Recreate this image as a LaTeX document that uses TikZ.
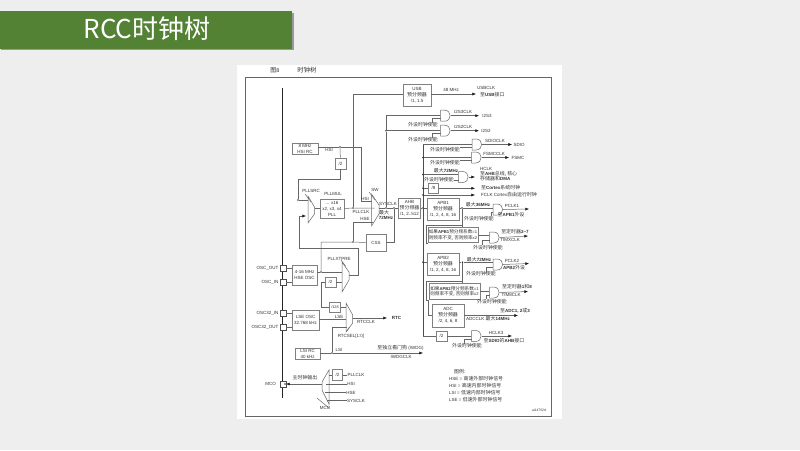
\documentclass[tikz,border=0pt]{standalone}
\usepackage{fontspec}
\setmainfont{Liberation Sans}
\newfontfamily\cjkfont[Scale=1.1]{Noto Sans CJK SC}
\newfontfamily\titlefont{Noto Sans CJK SC}
\usetikzlibrary{arrows.meta}
\newcommand{\zh}[1]{{\cjkfont #1}}
\newcommand{\clken}{\zh{外设时钟使能}}
\newcommand{\prediv}{\zh{预分频器}}
% name, x, y: and-gate with west/east anchors and enable input #1ctl
\newcommand{\clkgate}[3]{%
  \node[inner sep=0pt,minimum width=10pt,minimum height=11pt] (#1) at (#2,#3) {};
  \coordinate (#1ctl) at (#2-5,#3+3);
  \draw[wire,fill=white] (#2-5,#3-5.5) -- (#2-1,#3-5.5) .. controls (#2+6.5,#3-5.5) and (#2+6.5,#3+5.5) .. (#2-1,#3+5.5) -- (#2-5,#3+5.5) -- cycle;}
\tikzset{
  wire/.style={draw=black!60,line width=0.5pt},
  lbl/.style={font=\fontsize{4.5}{6}\selectfont,text=black!80,inner sep=0pt,align=center},
  lblb/.style={lbl,font=\fontsize{4.5}{6}\selectfont\bfseries},
  clkbox/.style={lbl,draw=black!50,line width=0.7pt,fill=white},
  pinbox/.style={draw=black!70,line width=0.5pt,fill=white,minimum size=6pt,inner sep=0pt},
  clkdot/.style={circle,fill=black!80,inner sep=0pt,minimum size=1.7pt},
  mux/.style={draw=black!60,line width=0.5pt,fill=white},
  >={Latex[length=3.6pt,width=3pt,black!90]}
}
\definecolor{titlegreen}{RGB}{84,130,53}
\begin{document}
\begin{tikzpicture}[x=1pt,y=-1pt]
\useasboundingbox (0,0) rectangle (800,450);
\fill[black!6.5] (0,0) rectangle (800,450);
% --- title bar ---
\fill[black!40] (1,12.5) rectangle (293.5,50);
\fill[titlegreen] (0,11) rectangle (292,49);
\node[font=\titlefont\fontsize{26}{28}\selectfont,text=white,inner sep=0pt] (title) at (147,29) {RCC时钟树};
% --- page ---
\fill[white] (237,65) rectangle (562,419);
\draw[black!60,line width=0.6pt] (245,77) rectangle (551,416);
\node[lbl,font=\fontsize{5.5}{6}\selectfont] (figno) at (275,70.5) {\zh{图}8};
\node[lbl,font=\fontsize{5.8}{6}\selectfont] (figname) at (307,70.5) {\zh{时钟树}};
\draw[black!85,line width=0.8pt] (282.5,88) -- (282.5,398);
% --- oscillators + pins ---
\node[clkbox,minimum width=26pt,minimum height=11pt] (hsi) at (305,148.5) {8 MHz\\HSI RC};
\node[clkbox,minimum width=25pt,minimum height=20pt] (hse) at (304.5,275) {4-16 MHz\\HSE OSC};
\node[clkbox,minimum width=27pt,minimum height=20pt] (lse) at (305.5,320) {LSE OSC\\32.768 kHz};
\node[clkbox,minimum width=25pt,minimum height=11pt] (lsi) at (307.5,353.5) {LSI RC\\40 kHz};
\node[pinbox] (oscout) at (283,268) {};
\node[pinbox] (oscin) at (283,282) {};
\node[pinbox] (osc32in) at (283,313) {};
\node[pinbox] (osc32out) at (283,327) {};
\node[pinbox] (mcopin) at (283,384) {};
\node[lbl,anchor=east] (oscoutl) at (278.5,268) {OSC\_OUT};
\node[lbl,anchor=east] (oscinl) at (278.5,282) {OSC\_IN};
\node[lbl,anchor=east] (osc32inl) at (278.5,313) {OSC32\_IN};
\node[lbl,anchor=east] (osc32outl) at (278.5,327) {OSC32\_OUT};
\node[lbl,anchor=east] (mcol) at (276,384) {MCO};
\draw[wire] (oscout) -- (oscout -| hse.west);
\draw[wire] (oscin) -- (oscin -| hse.west);
\draw[wire] (osc32in) -- (osc32in -| lse.west);
\draw[wire] (osc32out) -- (osc32out -| lse.west);
% --- muxes ---
\draw[mux] (308,196) -- (314.5,207) -- (314.5,214) -- (308,223) -- cycle;
\draw[mux] (371.5,194) -- (379,205) -- (379,214) -- (371.5,226) -- cycle;
\draw[mux] (342,262) -- (349,272) -- (349,280) -- (342,292) -- cycle;
\draw[mux] (346,303) -- (352.7,315) -- (352.7,323) -- (346,332) -- cycle;
\draw[mux] (329,370) -- (322,382) -- (322,390) -- (329,404) -- cycle;
\draw[wire] (305,194) -- (311,202);
\draw[wire] (369,192) -- (375,200);
\draw[wire] (341,260) -- (345.5,266);
\draw[wire] (347,331) -- (349.5,327);
\draw[wire] (317,398) -- (329,408);
\node[lbl] (pllsrcl) at (311,191) {PLLSRC};
\node[lbl] (swl) at (375,190) {SW};
\node[lbl] (pllxl) at (339,258.5) {PLLXTPRE};
\node[lbl] (rtcsel) at (351,336) {RTCSEL[1:0]};
\node[lbl] (mcosel) at (325,407.5) {MCO};
% --- PLL part ---
\node[clkdot] (hsidot) at (340,147) {};
\node[clkbox,minimum size=11pt] (hsidiv) at (340.5,163.5) {/2};
\node[clkbox,minimum width=24pt,minimum height=19pt] (pll) at (332,208.5) {... x16\\x2, x3, x4\\PLL};
\node[lbl] (pllmul) at (333,194) {PLLMUL};
\node[lbl] (hsil) at (329,150) {HSI};
\node[clkdot] (srcdot) at (298,200) {};
\coordinate (srchsi) at (308,200);
\coordinate (srchse) at (306,216);
\coordinate (swhsi) at (372,201);
\coordinate (swpll) at (374.5,208);
\coordinate (swhse) at (373,222);
\coordinate (swout) at (379,208);
\draw[wire] (hsi.east |- hsidot) -- (hsidot) -- (361,147) |- (swhsi);
\draw[wire] (hsidot) -- (hsidiv);
\draw[wire] (hsidiv) -- (340.5,179) -| (srcdot) -- (srchsi);
\draw[wire] (pll.west) -- (314.5,208.5);
\node[clkdot] (plldot) at (353,208) {};
\draw[wire] (pll.east) -- (plldot) -- (swpll);
\node[lbl] (pllclkl) at (361,211.5) {PLLCLK};
\node[lbl] (hsisw) at (365,198.5) {HSI};
\node[lbl] (hsesw) at (365,219.3) {HSE};
% --- HSE routing ---
\node[clkdot] (hsedot) at (321,272) {};
\node[clkbox,minimum width=11pt,minimum height=10pt] (hsediv) at (330.5,282) {/2};
\node[clkbox,minimum width=20pt,minimum height=17pt] (css) at (376,242.5) {CSS};
\node[clkdot] (cssdot) at (353,242) {};
\coordinate (hsetop) at (321,242);
\draw[wire] (hse.east |- hsedot) -- (hsedot) -- (342,272);
\draw[wire] (hsediv.east) -- (342,282);
\draw[wire] (321,282) -- (hsediv.west);
\draw[wire] (hsedot) -- (hsetop) -- (cssdot) -- (css.west);
\draw[wire] (cssdot) |- (swhse);
\draw[wire,->] (349,275) -- (358,275) -- (358,248) -- (299,248) -- (299,216) -- (srchse);
% --- SYSCLK ---
\node[clkbox,minimum width=22pt,minimum height=20pt] (ahb) at (409.5,208) {AHB\\\prediv\\/1, 2..512};
\node[clkdot] (cssin) at (394,208) {};
\node[clkdot] (sysdot) at (386,208) {};
\draw[wire] (swout) -- (sysdot) -- (cssin) -- (ahb.west);
\draw[wire] (cssin) |- (css.east);
\node[lbl] (syscl) at (388,204) {SYSCLK};
\node[lbl] (max72a) at (384,213) {\zh{最大}};
\node[lblb] (max72b) at (386,218) {72MHz};
% --- USB + I2S ---
\node[clkbox,minimum width=28pt,minimum height=22pt] (usb) at (417,95) {USB\\\prediv\\/1, 1.5};
\coordinate (usbend) at (476,94);
\draw[wire] (plldot) |- (usb.west |- usbend);
\draw[wire,->] (usb.east |- usbend) -- (usbend);
\node[lbl] (mhz48) at (451,90) {48 MHz};
\node[lbl,anchor=west] (usbclk) at (477,88) {USBCLK};
\node[lbl,anchor=west] (usbport) at (480,94.5) {\zh{至}\textbf{USB}\zh{接口}};
\clkgate{i2s3}{445.5}{115.7}
\clkgate{i2s2}{445.5}{130.7}
\node[clkdot] (i2sdot) at (386,130.7) {};
\coordinate (i2s3end) at (479,115.7);
\coordinate (i2s2end) at (479,130.7);
\draw[wire] (sysdot) -- (i2sdot) -- (386,115.7) -- (i2s3.west);
\draw[wire] (i2sdot) -- (i2s2.west);
\draw[wire,->] (i2s3.east) -- (i2s3end);
\draw[wire,->] (i2s2.east) -- (i2s2end);
\node[lbl] (i2s3en) at (423,125) {\clken};
\node[lbl] (i2s2en) at (423,140) {\clken};
\draw[wire] ([xshift=9pt]i2s3en.north) |- (i2s3ctl);
\draw[wire] ([xshift=9pt]i2s2en.north) |- (i2s2ctl);
\node[lbl] (i2s3clk) at (463,112) {I2S3CLK};
\node[lbl] (i2s2clk) at (463,127) {I2S2CLK};
\node[lbl] (i2s3l) at (487,116) {I2S3};
\node[lbl] (i2s2l) at (486,131) {I2S2};
% --- AHB bus ---
\node[clkdot] (busa) at (423,208) {};
\draw[wire,line width=0.7pt] (ahb.east) -- (busa);
\draw[black!70,line width=0.7pt] (423,145) -- (423,336);
\clkgate{sdio}{477}{144.5}
\clkgate{fsmc}{476.5}{157.5}
\clkgate{hclk}{463.5}{177}
\node[clkdot] (busf) at (423,157.5) {};
\node[clkdot] (bush) at (423,174.5) {};
\node[clkdot] (busd) at (423,188.3) {};
\node[clkdot] (busc) at (423,195) {};
\coordinate (sdioend) at (512,144.5);
\coordinate (fsmcend) at (509,157.5);
\coordinate (hclkend) at (475,177);
\draw[wire] (423,144.5) -- (sdio.west);
\draw[wire] (busf) -- (fsmc.west);
\draw[wire] (bush) -- (bush -| hclk.west);
\draw[wire,->] (hclk.east) -- (hclkend);
\draw[wire,->] (sdio.east) -- (sdioend);
\draw[wire,->] (fsmc.east) -- (fsmcend);
\node[lbl] (sdioen) at (445,149.5) {\clken};
\node[lbl] (fsmcen) at (445,162.5) {\clken};
\node[lbl] (hclken) at (439,180) {\clken};
\draw[wire] (sdioen.east |- sdioctl) -- (sdioctl);
\draw[wire] (fsmcen.east |- fsmcctl) -- (fsmcctl);
\draw[wire] (hclken.east |- hclkctl) -- (hclkctl);
\node[lbl] (sdioclk) at (495,141) {SDIOCLK};
\node[lbl] (fsmcclk) at (494,154) {FSMCCLK};
\node[lbl] (sdiol) at (519,144.5) {SDIO};
\node[lbl] (fsmcl) at (518,157.5) {FSMC};
\node[lbl,anchor=west] (hclkl) at (480,168.5) {HCLK};
\node[lbl,anchor=west] (hclka) at (480,173.5) {\zh{至}\textbf{AHB}\zh{总线, 核心}};
\node[lbl,anchor=west] (hclkb) at (480,178.5) {\zh{存储器和}\textbf{DMA}};
\node[lbl] (hclkm) at (446,171) {\zh{最大}\textbf{72MHz}};
% --- Cortex ---
\node[clkbox,minimum size=9.5pt] (div8) at (433.5,188.3) {/8};
\coordinate (cortexa) at (475,188.3);
\coordinate (cortexb) at (475,195);
\draw[wire] (busd) -- (div8);
\draw[wire,->] (div8) -- (cortexa);
\draw[wire,->] (busc) -- (cortexb);
\node[lbl,anchor=west] (cortexal) at (481,187.5) {\zh{至}\textbf{Cortex}\zh{系统时钟}};
\node[lbl,anchor=west] (cortexbl) at (481,195) {FCLK Cortex\zh{自由运行时钟}};
% --- APB1 ---
\node[clkbox,minimum width=32pt,minimum height=22pt] (apb1) at (443,209) {APB1\\\prediv\\/1, 2, 4, 8, 16};
\node[clkdot] (apb1dot) at (462,208) {};
\clkgate{pclk1}{498}{209.5}
\coordinate (pclk1end) at (529,209);
\draw[wire] (busa) -- (apb1.west |- busa);
\draw[wire] (apb1.east |- apb1dot) -- (apb1dot) -- (apb1dot -| pclk1.west);
\draw[wire,->] (pclk1.east) -- (pclk1end);
\node[lbl] (apb1en) at (479,218.5) {\clken};
\draw[wire] ([xshift=-3pt]apb1en.north east) |- (pclk1ctl);
\node[lbl] (max36) at (478,205) {\zh{最大}\textbf{36MHz}};
\node[lbl] (pclk1l) at (512,205.5) {PCLK1};
\node[lbl] (apb1p) at (511,215) {\zh{至}\textbf{APB1}\zh{外设}};
\node[clkbox,minimum width=50pt,minimum height=15pt,font=\fontsize{4.2}{5.5}\selectfont] (tim1) at (453,235) {\zh{如果}\textbf{APB1}\zh{预分频系数}=1\\\zh{则频率不变, 否则频率}x2};
\clkgate{timx}{494.5}{237.5}
\coordinate (timxend) at (528,236);
\draw[wire] (apb1dot) -- (apb1dot |- tim1.north);
\draw[wire] (426,225) -- (apb1dot |- 0,225);
\draw[wire] (426,225) -- (426,243) -- (428,243);
\draw[wire] (tim1.east) -- (tim1.east -| timx.west);
\draw[wire,->] (timx.east) -- (timxend);
\node[lbl] (tim1en) at (488,247.5) {\clken};
\draw[wire] ([xshift=-6pt]tim1en.north) |- (timxctl);
\node[lbl] (timxa) at (515,232) {\zh{至定时器}\textbf{2\textasciitilde7}};
\node[lbl] (timxb) at (510,240) {TIMXCLK};
% --- APB2 ---
\node[clkbox,minimum width=32pt,minimum height=22pt] (apb2) at (443,264) {APB2\\\prediv\\/1, 2, 4, 8, 16};
\node[clkdot] (busb) at (423,262.3) {};
\node[clkdot] (apb2dot) at (462.5,262.3) {};
\clkgate{pclk2}{498}{264.5}
\coordinate (pclk2end) at (529,263.5);
\draw[wire] (busb) -- (busb -| apb2.west);
\draw[wire] (apb2dot -| apb2.east) -- (apb2dot) -- (apb2dot -| pclk2.west);
\draw[wire,->] (pclk2.east) -- (pclk2end);
\node[lbl] (apb2en) at (481,274) {\clken};
\draw[wire] ([xshift=5pt]apb2en.north) |- (pclk2ctl);
\node[lbl] (max72) at (479,259.5) {\zh{最大}\textbf{72MHz}};
\node[lbl] (pclk2l) at (512,260.5) {PCLK2};
\node[lbl] (apb2p) at (514,268) {\textbf{APB2}\zh{外设}};
\node[clkbox,minimum width=51pt,minimum height=16pt,font=\fontsize{4.2}{5.5}\selectfont] (tim8) at (454.5,291.5) {\zh{如果}\textbf{APB2}\zh{预分频系数}=1\\\zh{则频率不变, 否则频率}x2};
\clkgate{timy}{494.5}{292.5}
\coordinate (timyend) at (528,291.5);
\draw[wire] (apb2dot) -- (apb2dot |- tim8.north);
\draw[wire] (426,281) -- (apb2dot |- 0,281);
\draw[wire] (426,281) -- (426,300) -- (429,300);
\draw[wire] (tim8.east) -- (tim8.east -| timy.west);
\draw[wire,->] (timy.east) -- (timyend);
\node[lbl] (tim8en) at (492,301.7) {\clken};
\draw[wire] ([xshift=-6pt]tim8en.north) |- (timyctl);
\node[lbl] (timya) at (517,287) {\zh{至定时器}\textbf{1}\zh{和}\textbf{8}};
\node[lbl] (timyb) at (511,295) {TIM8CLK};
% --- ADC ---
\node[clkbox,minimum width=32pt,minimum height=23pt] (adc) at (448,315.5) {ADC\\\prediv\\/2, 4, 6, 8};
\coordinate (adcend) at (518,315.5);
\draw[wire] (428,300) -- (428,315.5) -- (adc.west);
\draw[wire,->] (adc.east) -- (adcend);
\node[lbl] (adcclk) at (488,318.5) {ADCCLK \zh{最大}\textbf{14MHz}};
\node[lbl] (adcto) at (515,311) {\zh{至}\textbf{ADC1, 2}\zh{或}\textbf{3}};
% --- HCLK3 ---
\node[clkbox,minimum width=11pt,minimum height=10pt] (div2c) at (441.5,336) {/2};
\clkgate{hclk3}{476.5}{336}
\coordinate (hclk3end) at (512,336);
\draw[wire] (423,336) -- (div2c.west);
\draw[wire] (div2c.east) -- (hclk3.west);
\draw[wire,->] (hclk3.east) -- (hclk3end);
\node[lbl] (hclk3en) at (467,346) {\clken};
\draw[wire] ([xshift=-3pt]hclk3en.north) |- (hclk3ctl);
\node[lbl] (hclk3l) at (496,333) {HCLK3};
\node[lbl] (hclk3to) at (504,340.5) {\zh{至}\textbf{SDIO}\zh{的}\textbf{AHB}\zh{接口}};
% --- RTC + IWDG ---
\node[clkbox,minimum width=10.5pt,minimum height=10pt,font=\fontsize{3.8}{5}\selectfont] (div128) at (335,307) {/128};
\coordinate (rtcend) at (387,318);
\coordinate (lseend) at (346,319);
\coordinate (lsiend) at (347,327);
\coordinate (iwdgend) at (423,353);
\node[clkdot] (lsidot) at (332,353) {};
\draw[wire] (321,282) -- (321,307) -- (div128.west);
\draw[wire] (div128.east) -- (346,307);
\draw[wire] (lse.east |- lseend) -- (lseend);
\draw[wire] (lsi.east |- lsidot) -- (lsidot) |- (lsiend);
\draw[wire,->] (lsidot) -- (iwdgend);
\draw[wire,->] (352.7,318) -- (rtcend);
\node[lbl] (lsel) at (339,316.5) {LSE};
\node[lbl] (lsil) at (339,350) {LSI};
\node[lbl] (rtcclk) at (366,322) {RTCCLK};
\node[lblb] (rtcl) at (396.5,318) {RTC};
\node[lbl] (iwdga) at (400.5,348) {\zh{至独立看门狗} (IWDG)};
\node[lbl] (iwdgb) at (401,356.5) {IWDGCLK};
% --- MCO ---
\node[clkbox,minimum size=10.5pt] (mcodiv) at (337.5,375) {/2};
\node[clkdot] (mcodot) at (285,384) {};
\node[lbl] (mcoinp) at (356,375) {PLLCLK};
\node[lbl] (mcoinh) at (351,384) {HSI};
\node[lbl] (mcoine) at (351,392.5) {HSE};
\node[lbl] (mcoins) at (356,400.5) {SYSCLK};
\draw[wire] (329,375) -- (mcodiv.west);
\draw[wire] (mcodiv.east) -- (mcoinp.west);
\draw[wire] (326,384) -- (mcoinh.west);
\draw[wire] (325,392.5) -- (mcoine.west);
\draw[wire] (327,400.5) -- (mcoins.west);
\draw[wire,->] (322,384) -- (mcodot);
\node[lbl] (mainclk) at (305,378) {\zh{主时钟输出}};
% --- legend ---
\node[lbl,anchor=west] (lega) at (454,372) {\zh{图例:}};
\node[lbl,anchor=west] (legb) at (449,378.5) {HSE = \zh{高速外部时钟信号}};
\node[lbl,anchor=west] (legc) at (449,386) {HSI = \zh{高速内部时钟信号}};
\node[lbl,anchor=west] (legd) at (449,393) {LSI = \zh{低速内部时钟信号}};
\node[lbl,anchor=west] (lege) at (449,400) {LSE = \zh{低速外部时钟信号}};
\node[lbl,font=\fontsize{3.4}{4}\selectfont] (aitag) at (539,410) {ai14752d};
\end{tikzpicture}
\end{document}
